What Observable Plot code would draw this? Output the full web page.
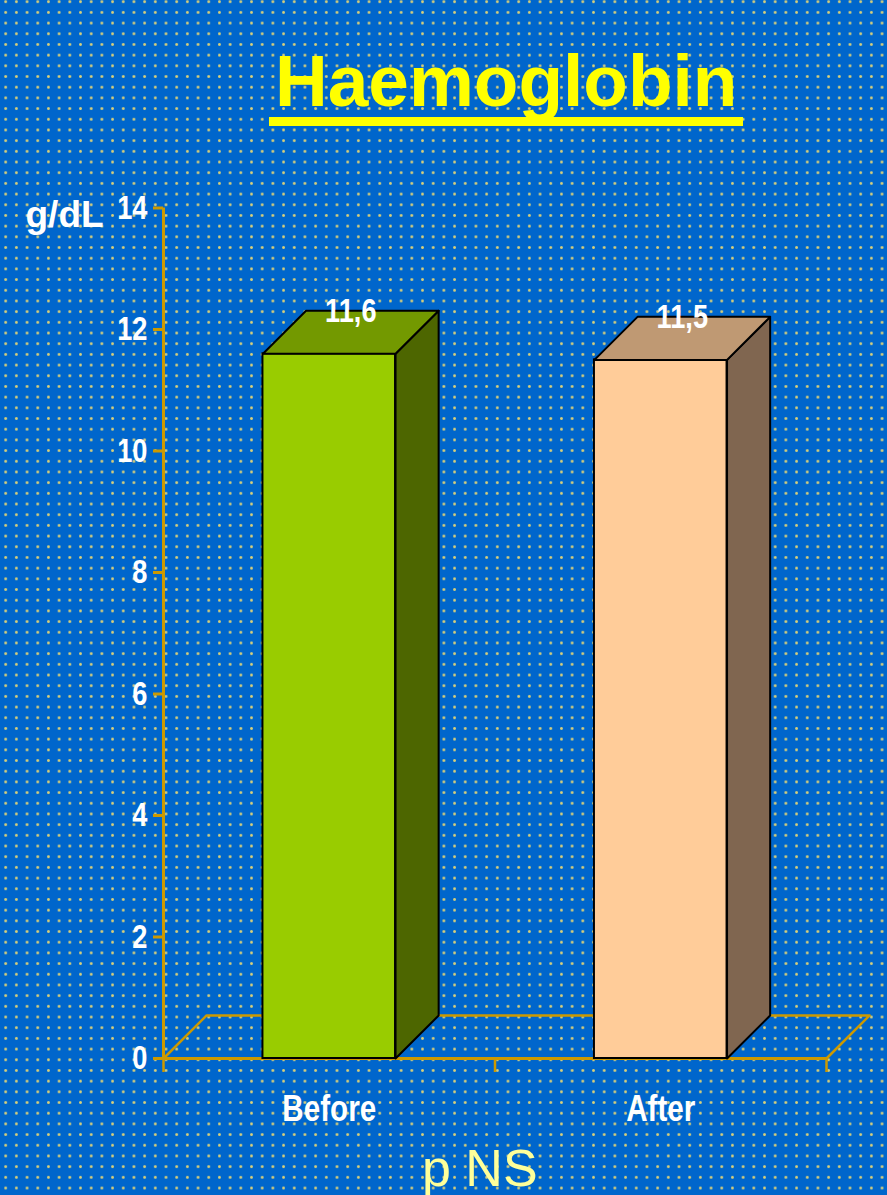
<!DOCTYPE html>
<html>
<head>
<meta charset="utf-8">
<script src="https://cdn.jsdelivr.net/npm/d3@7"></script>
<script src="https://cdn.jsdelivr.net/npm/@observablehq/plot@0.6"></script>
<style>
  html, body { margin: 0; padding: 0; }
  body {
    width: 887px; height: 1195px; overflow: hidden; position: relative;
    background-color: #0066cc;
    background-image: radial-gradient(circle, #d8d07a 0, #d8d07a 0.9px, rgba(0,102,204,0) 1.9px);
    background-size: 10.7px 10.7px;
    background-position: 0.35px -3.65px;
    font-family: "Liberation Sans", Arial, sans-serif;
  }
  #title {
    position: absolute; left: 269px; top: 44px; padding: 0 6px;
    font-size: 73px; line-height: 73px; font-weight: bold; color: #ffff00;
    border-bottom: 9px solid #ffff00;
  }
  #chart { position: absolute; left: 0; top: 150px; }
  #note {
    position: absolute; left: 422px; top: 1142px;
    font-size: 52px; line-height: 52px; color: #ffff99;
  }
</style>
</head>
<body>
<div id="title">Haemoglobin</div>
<div id="chart"></div>
<div id="note">p NS</div>
<script>
// Mean haemoglobin before and after
const categories = ["Before", "After"];
const values = [11.6, 11.5];
const valueLabels = ["11,6", "11,5"];
const frontColors = ["#99cc00", "#ffcc99"];
const topColors = ["#739900", "#bf9973"];
const sideColors = ["#4d6600", "#806650"];
const yTicks = [0, 2, 4, 6, 8, 10, 12, 14];
const unit = "g/dL";

// Each category occupies the slot [i, i + 1] on a continuous x scale
const n = categories.length;
const halfWidth = 0.2;   // half of a bar's front face, in slot units
const depthX = 0.13;     // oblique depth of the 3D box, in slot units
const depthY = 0.708;    // oblique depth of the 3D box, in g/dL

const bars = categories.map((c, i) => ({
  category: c, value: values[i], label: valueLabels[i],
  center: i + 0.5, x0: i + 0.5 - halfWidth, x1: i + 0.5 + halfWidth,
  front: frontColors[i], top: topColors[i], side: sideColors[i]
}));

const corners = (pts, b, color) => pts.map(([x, y]) => ({x, y, category: b.category, shade: color}));
const sideFaces = bars.flatMap(b => corners(
  [[b.x1, 0], [b.x1, b.value], [b.x1 + depthX, b.value + depthY], [b.x1 + depthX, depthY]], b, b.side));
const topFaces = bars.flatMap(b => corners(
  [[b.x0, b.value], [b.x1, b.value], [b.x1 + depthX, b.value + depthY], [b.x0 + depthX, b.value + depthY]], b, b.top));
const floor = [[0, 0], [n, 0], [n + depthX, depthY], [depthX, depthY]].map(([x, y]) => ({x, y}));

const gold = "#cc9900";
const sans = `"Liberation Sans", Arial, sans-serif`;

const chart = Plot.plot({
  width: 887,
  height: 990,
  marginTop: 57.5,
  marginBottom: 82,
  marginLeft: 163,
  marginRight: 61,
  style: {background: "transparent", overflow: "visible", fontFamily: sans, fontWeight: "bold"},
  x: {domain: [0, n], axis: null},
  y: {domain: [0, 14], axis: null},
  color: {type: "identity"},
  marks: [
    Plot.line(floor, {x: "x", y: "y", curve: "linear-closed", stroke: gold, strokeWidth: 2.5}),
    Plot.ruleY([0], {stroke: gold, strokeWidth: 3}),
    Plot.ruleX([0], {y1: 0, y2: 14, stroke: gold, strokeWidth: 3}),
    Plot.axisY(yTicks, {anchor: "left", tickSize: 10, tickPadding: 6, stroke: gold, strokeWidth: 3,
      fill: "white", fontSize: 34, fontWeight: "bold", tickFormat: d3.format("d"), label: null}),
    Plot.axisX(d3.range(n + 1), {anchor: "bottom", tickSize: 14, stroke: gold, strokeWidth: 2.5,
      tickFormat: () => "", label: null}),
    Plot.rect(bars, {x1: "x0", x2: "x1", y1: 0, y2: "value", fill: "front", stroke: "black", strokeWidth: 2}),
    Plot.line(sideFaces, {x: "x", y: "y", z: "category", fill: "shade", stroke: "black", strokeWidth: 2, curve: "linear-closed"}),
    Plot.line(topFaces, {x: "x", y: "y", z: "category", fill: "shade", stroke: "black", strokeWidth: 2, curve: "linear-closed"}),
    Plot.text(bars, {x: d => d.center + depthX / 2, y: d => d.value + depthY, text: "label",
      fill: "white", fontSize: 34}),
    Plot.text(bars, {x: "center", y: 0, dy: 51, text: "category", fill: "white", fontSize: 37}),
    Plot.text([unit], {x: 0, y: 14, dx: -138, dy: 7, text: d => d, textAnchor: "start", fill: "white",
      fontSize: 37})
  ]
});

// Narrow lettering for the numbers and category names: squeeze each text around its own anchor
const squeeze = 0.8;
chart.querySelectorAll("text").forEach(t => {
  if (t.textContent === unit) return;
  const tf = t.getAttribute("transform");
  if (tf) {
    t.setAttribute("transform", `${tf} scale(${squeeze},1)`);
  } else {
    const x = +(t.getAttribute("x") || 0), y = +(t.getAttribute("y") || 0);
    t.removeAttribute("x"); t.removeAttribute("y");
    t.setAttribute("transform", `translate(${x},${y}) scale(${squeeze},1)`);
  }
});
document.getElementById("chart").append(chart);
</script>
</body>
</html>
